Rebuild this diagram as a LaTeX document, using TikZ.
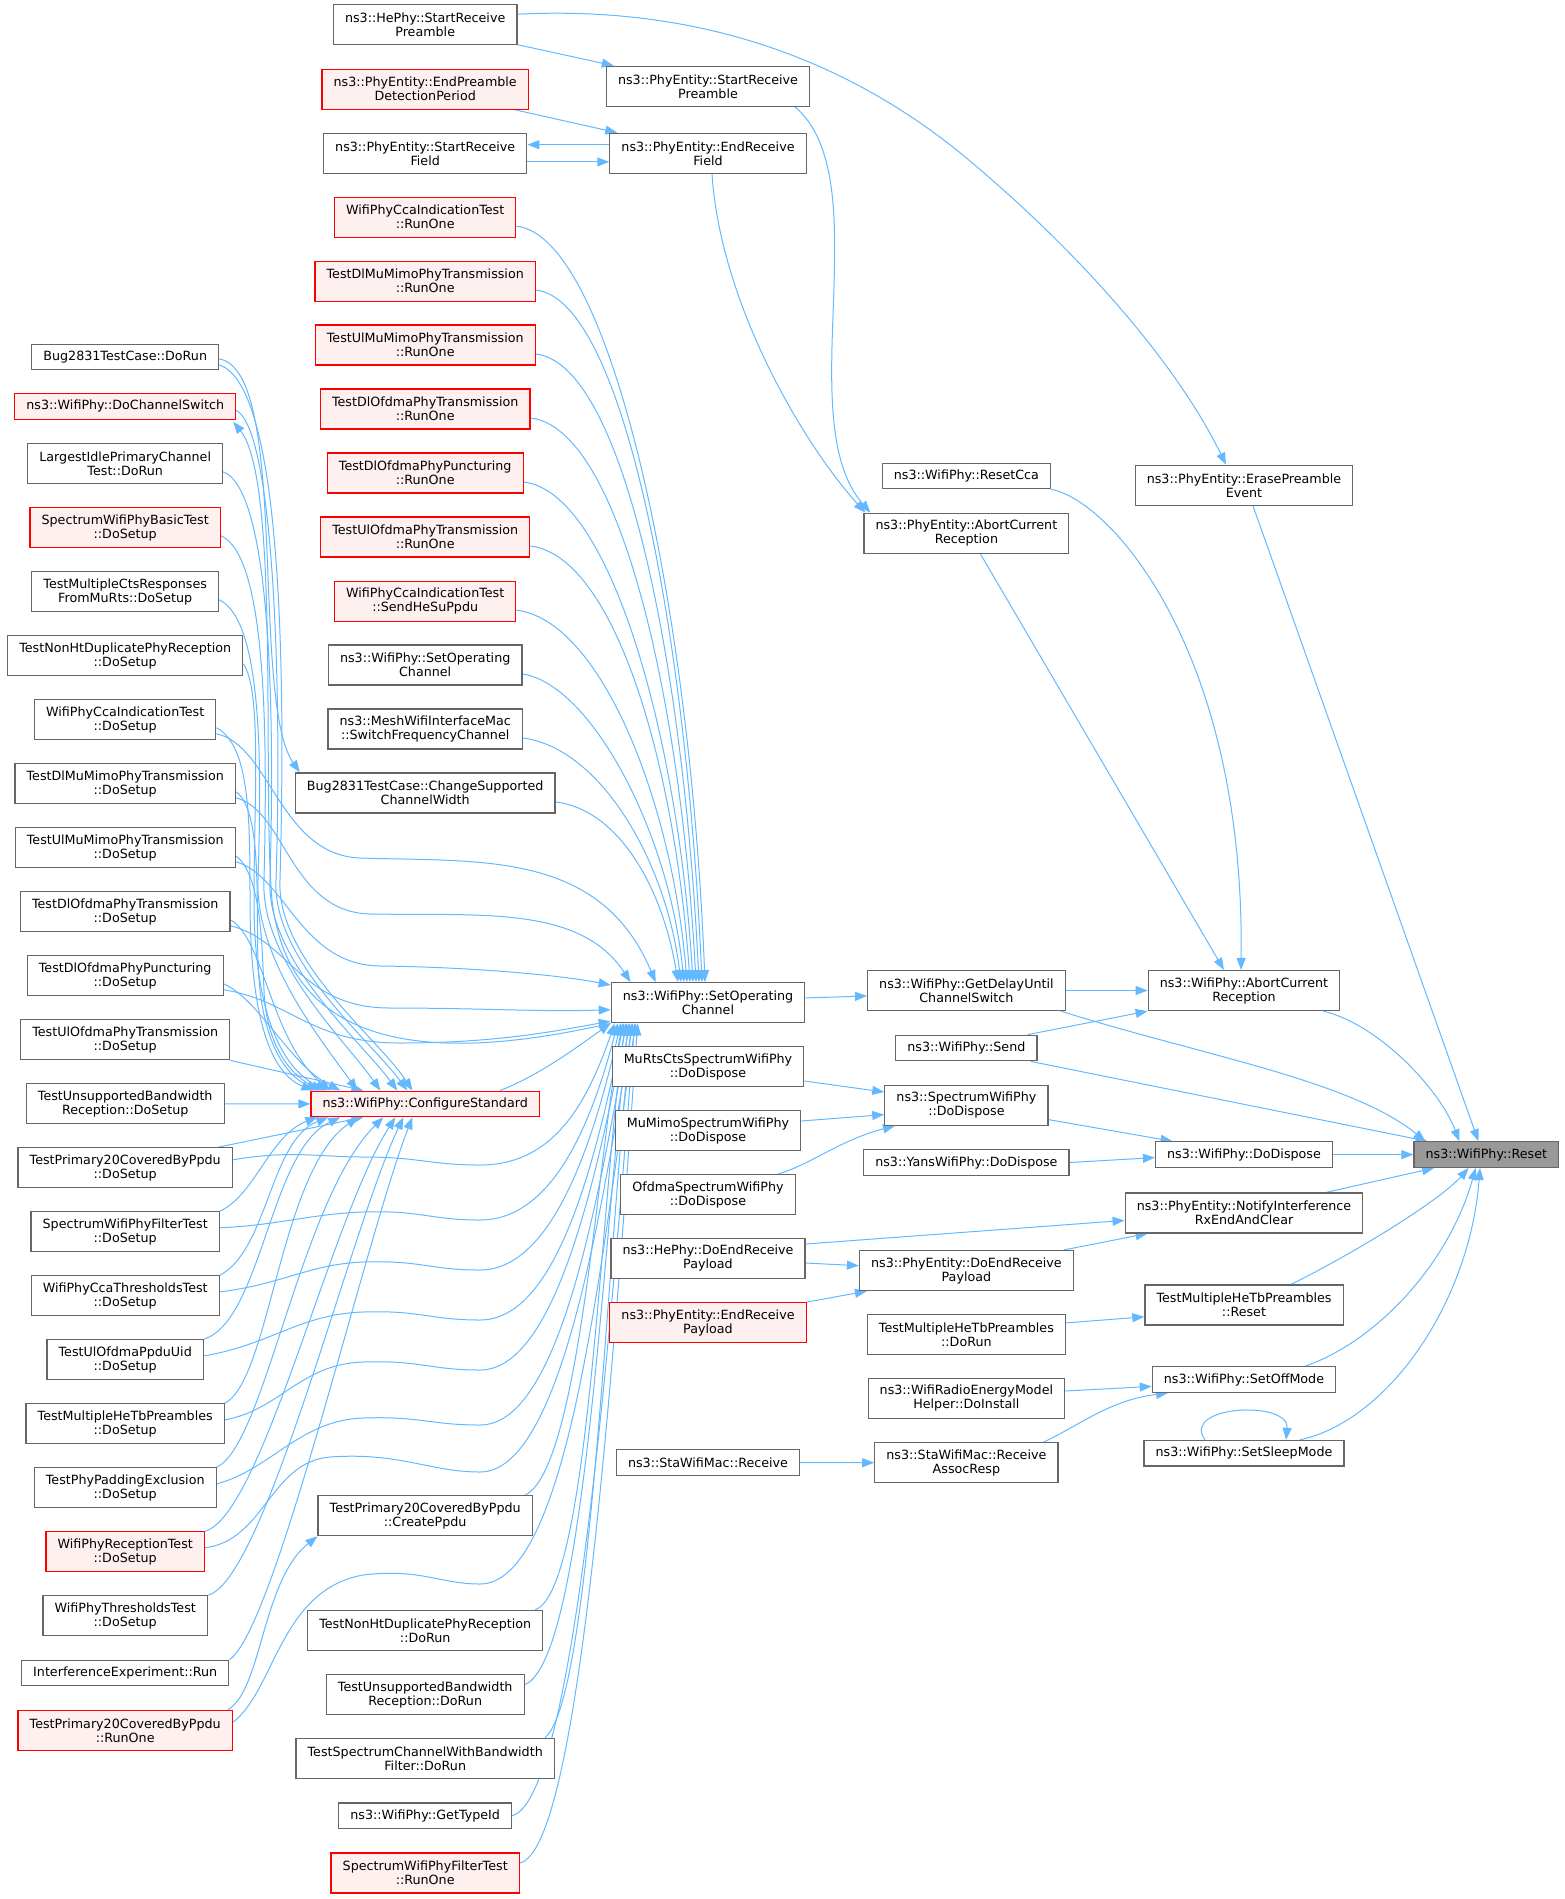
\documentclass[tikz,border=0pt]{standalone}
\usepackage{fontspec}
\setmainfont{DejaVu Sans}
\usepackage{xcolor}
\usepackage{tikz}
\usetikzlibrary{arrows.meta}

\definecolor{edgeblue}{HTML}{63B8FF}
\definecolor{boxgrey}{HTML}{666666}
\definecolor{redfill}{HTML}{FFF0F0}
\definecolor{resetfill}{HTML}{999999}

\pgfdeclarelayer{bg}
\pgfsetlayers{bg,main}

\tikzset{
  fn/.style={draw=boxgrey,line width=1.2pt,fill=white,inner xsep=11.6pt,inner ysep=2pt,
    minimum height=25.5pt,align=center,font=\fontsize{12.7}{14}\selectfont},
  two/.style={minimum height=40pt},
  hot/.style={draw=red,fill=redfill},
  call/.style={draw=edgeblue,line width=1pt,-{Triangle[length=12pt,width=9pt]}},
}

\begin{document}
\begin{tikzpicture}[x=1pt,y=-1pt]
  \useasboundingbox (0,0) rectangle (1565,1899);
  \begin{scope}[every node/.style={fn}]
    % left column
    \node (dorun) at (125.2,357) {Bug2831TestCase::DoRun};
    \node[hot] (chsw) at (125.2,406.4) {ns3::WifiPhy::DoChannelSwitch};
    \node[two] (largest) at (125.2,463.8) {LargestIdlePrimaryChannel\\Test::DoRun};
    \node[two,hot] (basic) at (125.2,527.8) {SpectrumWifiPhyBasicTest\\::DoSetup};
    \node[two] (ctsmurts) at (125.2,591.8) {TestMultipleCtsResponses\\FromMuRts::DoSetup};
    \node[two] (nonhtsetup) at (125.2,655.8) {TestNonHtDuplicatePhyReception\\::DoSetup};
    \node[two] (ccasetup) at (125.2,719.8) {WifiPhyCcaIndicationTest\\::DoSetup};
    \node[two] (dlmimosetup) at (125.2,783.8) {TestDlMuMimoPhyTransmission\\::DoSetup};
    \node[two] (ulmimosetup) at (125.2,847.8) {TestUlMuMimoPhyTransmission\\::DoSetup};
    \node[two] (dlofdmasetup) at (125.2,911.8) {TestDlOfdmaPhyTransmission\\::DoSetup};
    \node[two] (punctsetup) at (125.2,975.8) {TestDlOfdmaPhyPuncturing\\::DoSetup};
    \node[two] (ulofdmasetup) at (125.2,1039.8) {TestUlOfdmaPhyTransmission\\::DoSetup};
    \node[two] (unsupsetup) at (125.2,1103.8) {TestUnsupportedBandwidth\\Reception::DoSetup};
    \node[two] (p20setup) at (125.2,1167.8) {TestPrimary20CoveredByPpdu\\::DoSetup};
    \node[two] (filtersetup) at (125.2,1231.8) {SpectrumWifiPhyFilterTest\\::DoSetup};
    \node[two] (ccathrsetup) at (125.2,1295.8) {WifiPhyCcaThresholdsTest\\::DoSetup};
    \node[two] (ppdusetup) at (125.2,1359.8) {TestUlOfdmaPpduUid\\::DoSetup};
    \node[two] (hetbsetup) at (125.2,1423.8) {TestMultipleHeTbPreambles\\::DoSetup};
    \node[two] (paddingsetup) at (125.2,1487.8) {TestPhyPaddingExclusion\\::DoSetup};
    \node[two,hot] (rxtestsetup) at (125.2,1551.8) {WifiPhyReceptionTest\\::DoSetup};
    \node[two] (thrsetup) at (125.2,1615.8) {WifiPhyThresholdsTest\\::DoSetup};
    \node (interf) at (125.2,1673) {InterferenceExperiment::Run};
    \node[two,hot] (p20runone) at (125.2,1730.3) {TestPrimary20CoveredByPpdu\\::RunOne};
    % second column
    \node[two] (hestart) at (425.2,24.7) {ns3::HePhy::StartReceive\\Preamble};
    \node[two,hot] (endpreamble) at (425.2,89.2) {ns3::PhyEntity::EndPreamble\\DetectionPeriod};
    \node[two] (startfield) at (425.2,153.3) {ns3::PhyEntity::StartReceive\\Field};
    \node[two,hot] (ccarunone) at (425.2,217.2) {WifiPhyCcaIndicationTest\\::RunOne};
    \node[two,hot] (dlmimorunone) at (425.2,281.1) {TestDlMuMimoPhyTransmission\\::RunOne};
    \node[two,hot] (ulmimorunone) at (425.2,345) {TestUlMuMimoPhyTransmission\\::RunOne};
    \node[two,hot] (dlofdmarunone) at (425.2,409) {TestDlOfdmaPhyTransmission\\::RunOne};
    \node[two,hot] (punctrunone) at (425.2,473) {TestDlOfdmaPhyPuncturing\\::RunOne};
    \node[two,hot] (ulofdmarunone) at (425.2,537) {TestUlOfdmaPhyTransmission\\::RunOne};
    \node[two,hot] (sendhesu) at (425.2,601.2) {WifiPhyCcaIndicationTest\\::SendHeSuPpdu};
    \node[two] (setopwrap) at (425.2,665) {ns3::WifiPhy::SetOperating\\Channel};
    \node[two] (mesh) at (425.2,729) {ns3::MeshWifiInterfaceMac\\::SwitchFrequencyChannel};
    \node[two] (changewidth) at (425.2,792.9) {Bug2831TestCase::ChangeSupported\\ChannelWidth};
    \node[hot] (confstd) at (425.2,1103.9) {ns3::WifiPhy::ConfigureStandard};
    \node[two] (createppdu) at (425.2,1515.7) {TestPrimary20CoveredByPpdu\\::CreatePpdu};
    \node[two] (nonhtrun) at (425.2,1630.3) {TestNonHtDuplicatePhyReception\\::DoRun};
    \node[two] (unsuprun) at (425.2,1694.7) {TestUnsupportedBandwidth\\Reception::DoRun};
    \node[two] (specchan) at (425.2,1758.3) {TestSpectrumChannelWithBandwidth\\Filter::DoRun};
    \node (typeid) at (425.2,1815.7) {ns3::WifiPhy::GetTypeId};
    \node[two,hot] (filterrunone) at (425.2,1873) {SpectrumWifiPhyFilterTest\\::RunOne};
    % third column
    \node[two] (phystartpre) at (708,86.3) {ns3::PhyEntity::StartReceive\\Preamble};
    \node[two] (endfield) at (708,153.3) {ns3::PhyEntity::EndReceive\\Field};
    \node[two] (setop) at (708,1002.7) {ns3::WifiPhy::SetOperating\\Channel};
    \node[two] (murts) at (708,1066.6) {MuRtsCtsSpectrumWifiPhy\\::DoDispose};
    \node[two] (mumimo) at (708,1130.5) {MuMimoSpectrumWifiPhy\\::DoDispose};
    \node[two] (ofdma) at (708,1194.5) {OfdmaSpectrumWifiPhy\\::DoDispose};
    \node[two] (hedoend) at (708,1258.4) {ns3::HePhy::DoEndReceive\\Payload};
    \node[two,hot] (endpayload) at (708,1322.7) {ns3::PhyEntity::EndReceive\\Payload};
    \node (stareceive) at (708,1462.5) {ns3::StaWifiMac::Receive};
    % fourth column
    \node (resetcca) at (966.4,476) {ns3::WifiPhy::ResetCca};
    \node[two] (phyabort) at (966.4,533.3) {ns3::PhyEntity::AbortCurrent\\Reception};
    \node[two] (delay) at (966.4,990.5) {ns3::WifiPhy::GetDelayUntil\\ChannelSwitch};
    \node (send) at (966.4,1048) {ns3::WifiPhy::Send};
    \node[two] (specdispose) at (966.4,1105.2) {ns3::SpectrumWifiPhy\\::DoDispose};
    \node (yansdispose) at (966.4,1162.5) {ns3::YansWifiPhy::DoDispose};
    \node[two] (doendpayload) at (966.4,1270.5) {ns3::PhyEntity::DoEndReceive\\Payload};
    \node[two] (hetbrun) at (966.4,1334.5) {TestMultipleHeTbPreambles\\::DoRun};
    \node[two] (energy) at (966.4,1398.4) {ns3::WifiRadioEnergyModel\\Helper::DoInstall};
    \node[two] (assocresp) at (966.4,1462.7) {ns3::StaWifiMac::Receive\\AssocResp};
    % fifth column
    \node[two] (erase) at (1244,485.3) {ns3::PhyEntity::ErasePreamble\\Event};
    \node[two] (wifiabort) at (1244,990.5) {ns3::WifiPhy::AbortCurrent\\Reception};
    \node (wifidispose) at (1244,1154.6) {ns3::WifiPhy::DoDispose};
    \node[two] (notify) at (1244,1212.9) {ns3::PhyEntity::NotifyInterference\\RxEndAndClear};
    \node[two] (hetbreset) at (1244,1305) {TestMultipleHeTbPreambles\\::Reset};
    \node (offmode) at (1244,1379.6) {ns3::WifiPhy::SetOffMode};
    \node (sleepmode) at (1244,1453.2) {ns3::WifiPhy::SetSleepMode};
    \node[fill=resetfill] (reset) at (1486.4,1154.6) {ns3::WifiPhy::Reset};
  \end{scope}

  \begin{pgfonlayer}{bg}
    % preamble and field handling
    \draw[call] ([shift={(0,20)}]hestart.east) -- ([shift={(8,0)}]phystartpre.north west);
    \draw[call] ([shift={(0,-10.5)}]hestart.east) .. controls (700,5) and (850,60) .. (970,161) .. controls (1090,262) and (1180,370) .. ([shift={(-18,0)}]erase.north);
    \draw[call] ([shift={(-14,0)}]endpreamble.south east) -- ([shift={(8,0)}]endfield.north west);
    \draw[call] ([shift={(0,-8.6)}]endfield.west) -- ([shift={(0,-8.6)}]startfield.east);
    \draw[call] ([shift={(0,8.6)}]startfield.east) -- ([shift={(0,8.6)}]endfield.west);
    \draw[call] ([shift={(-15,0)}]phystartpre.south east) .. controls (880,180) and (790,420) .. ([shift={(7,0)}]phyabort.north west);
    \draw[call] ([shift={(4,0)}]endfield.south) .. controls (720,300) and (800,440) .. ([shift={(2,0)}]phyabort.north west);
    \draw[call] (resetcca.south east) .. controls (1110,500) and (1245,650) .. ([shift={(-3,0)}]wifiabort.north);
    \draw[call] ([shift={(14,0)}]phyabort.south) -- ([shift={(-20,0)}]wifiabort.north);
    \draw[call] ([shift={(9,0)}]erase.south) -- ([shift={(-8,0)}]reset.north);

    % into Reset
    \draw[call] (delay.east) -- (wifiabort.west);
    \draw[call] ([shift={(-5,0)}]delay.south east) .. controls (1200,1055) and (1350,1080) .. ([shift={(12,0)}]reset.north west);
    \draw[call] ([shift={(-10,0)}]send.north east) -- (wifiabort.south west);
    \draw[call] ([shift={(-7,0)}]send.south east) -- ([shift={(14,0)}]reset.north west);
    \draw[call] ([shift={(-17,0)}]wifiabort.south east) .. controls (1380,1025) and (1440,1090) .. ([shift={(-27,0)}]reset.north);
    \draw[call] ([shift={(0,14.4)}]specdispose.east) -- ([shift={(17.6,0)}]wifidispose.north west);
    \draw[call] (yansdispose.east) -- ([shift={(0,3)}]wifidispose.west);
    \draw[call] (wifidispose.east) -- (reset.west);
    \draw[call] ([shift={(-37,0)}]notify.north east) -- ([shift={(20.7,0)}]reset.south west);
    \draw[call] ([shift={(47,0)}]hetbreset.north) .. controls (1360,1250) and (1440,1200) .. ([shift={(-17.7,0)}]reset.south);
    \draw[call] ([shift={(61,0)}]offmode.north) .. controls (1380,1340) and (1450,1260) .. ([shift={(-10.7,0)}]reset.south);
    \draw[call] ([shift={(56,0)}]sleepmode.north) .. controls (1390,1420) and (1470,1300) .. ([shift={(-6.4,0)}]reset.south);
    \draw[call] ([shift={(-39,0)}]sleepmode.north) .. controls (1180,1405) and (1290,1400) .. ([shift={(42,0)}]sleepmode.north);

    % middle part
    \draw[call] ([shift={(0,-4.8)}]setop.east) -- ([shift={(0,5.5)}]delay.west);
    \draw[call] ([shift={(0,14.4)}]murts.east) -- ([shift={(0,-13.2)}]specdispose.west);
    \draw[call] ([shift={(0,-9.5)}]mumimo.east) -- ([shift={(0,9.4)}]specdispose.west);
    \draw[call] ([shift={(70,0)}]ofdma.north) .. controls (810,1165) and (840,1140) .. ([shift={(10.7,0)}]specdispose.south west);
    \draw[call] ([shift={(0,-14.4)}]hedoend.east) -- ([shift={(0,7.5)}]notify.west);
    \draw[call] ([shift={(0,4.6)}]hedoend.east) -- ([shift={(0,-4.8)}]doendpayload.west);
    \draw[call] (endpayload.north east) -- ([shift={(8,0)}]doendpayload.south west);
    \draw[call] ([shift={(-10,0)}]doendpayload.north east) -- ([shift={(23,0)}]notify.south west);
    \draw[call] ([shift={(0,-11.6)}]hetbrun.east) -- ([shift={(0,11.8)}]hetbreset.west);
    \draw[call] ([shift={(0,-7.4)}]energy.east) -- ([shift={(0,6.8)}]offmode.west);
    \draw[call] ([shift={(-15,0)}]assocresp.north east) .. controls (1080,1425) and (1110,1400) .. ([shift={(16.4,0)}]offmode.south west);
    \draw[call] (stareceive.east) -- (assocresp.west);

    % second column into SetOperatingChannel
    \draw[call] ([shift={(0,9)}]ccarunone.east) .. controls (610,236) and (690,600) .. ([shift={(-3,0)}]setop.north);
    \draw[call] ([shift={(0,9)}]dlmimorunone.east) .. controls (625,300) and (687,640) .. ([shift={(-6,0)}]setop.north);
    \draw[call] ([shift={(0,9)}]ulmimorunone.east) .. controls (625,364) and (684,670) .. ([shift={(-9,0)}]setop.north);
    \draw[call] ([shift={(0,9)}]dlofdmarunone.east) .. controls (620,428) and (681,700) .. ([shift={(-12,0)}]setop.north);
    \draw[call] ([shift={(0,9)}]punctrunone.east) .. controls (610,492) and (678,735) .. ([shift={(-15,0)}]setop.north);
    \draw[call] ([shift={(0,9)}]ulofdmarunone.east) .. controls (615,556) and (675,765) .. ([shift={(-18,0)}]setop.north);
    \draw[call] ([shift={(0,9)}]sendhesu.east) .. controls (600,620) and (672,800) .. ([shift={(-21,0)}]setop.north);
    \draw[call] ([shift={(0,9)}]setopwrap.east) .. controls (590,684) and (669,830) .. ([shift={(-24,0)}]setop.north);
    \draw[call] ([shift={(0,9)}]mesh.east) .. controls (600,748) and (666,860) .. ([shift={(-27,0)}]setop.north);
    \draw[call] ([shift={(0,9)}]changewidth.east) .. controls (620,810) and (663,890) .. ([shift={(-30,0)}]setop.north);
    \draw[call] ([shift={(-40,0)}]confstd.north east) .. controls (540,1075) and (580,1045) .. (setop.south west);
    \draw[call] ([shift={(-8,0)}]createppdu.north east) .. controls (580,1470) and (598,1150) .. ([shift={(12,0)}]setop.south west);
    \draw[call] ([shift={(-8,0)}]nonhtrun.north east) .. controls (590,1590) and (600,1200) .. ([shift={(15,0)}]setop.south west);
    \draw[call] ([shift={(0,-10)}]unsuprun.east) .. controls (585,1660) and (602,1250) .. ([shift={(18,0)}]setop.south west);
    \draw[call] ([shift={(-10,0)}]specchan.north east) .. controls (590,1700) and (604,1300) .. ([shift={(21,0)}]setop.south west);
    \draw[call] (typeid.east) .. controls (570,1800) and (606,1400) .. ([shift={(24,0)}]setop.south west);
    \draw[call] ([shift={(0,-10)}]filterrunone.east) .. controls (575,1850) and (608,1450) .. ([shift={(27,0)}]setop.south west);

    % left column into ConfigureStandard
    \draw[call] ([shift={(0,8)}]dorun.east) .. controls (285,385) and (285,700) .. (280,880) .. controls (276,960) and (380,1040) .. ([shift={(102,0)}]confstd.north west);
    \draw[call] ([shift={(0,4)}]chsw.east) .. controls (275,430) and (282,700) .. (276,880) .. controls (272,960) and (370,1040) .. ([shift={(97,0)}]confstd.north west);
    \draw[call] ([shift={(0,8)}]largest.east) .. controls (270,490) and (275,700) .. (270,880) .. controls (266,960) and (360,1040) .. ([shift={(87,0)}]confstd.north west);
    \draw[call] ([shift={(0,8)}]basic.east) .. controls (265,555) and (268,720) .. (264,880) .. controls (260,960) and (345,1040) .. ([shift={(70,0)}]confstd.north west);
    \draw[call] ([shift={(0,8)}]ctsmurts.east) .. controls (262,620) and (262,760) .. (258,880) .. controls (255,960) and (325,1045) .. ([shift={(47,0)}]confstd.north west);
    \draw[call] ([shift={(0,8)}]nonhtsetup.east) .. controls (262,690) and (254,800) .. (254,900) .. controls (254,1020) and (285,1070) .. ([shift={(17,0)}]confstd.north west);
    \draw[call] ([shift={(0,8)}]ccasetup.east) .. controls (250,745) and (250,820) .. (250,900) .. controls (250,1030) and (275,1075) .. ([shift={(3,0)}]confstd.north west);
    \draw[call] ([shift={(0,8)}]dlmimosetup.east) .. controls (262,810) and (256,900) .. (258,960) .. controls (260,1040) and (285,1075) .. ([shift={(8,0)}]confstd.north west);
    \draw[call] ([shift={(0,8)}]ulmimosetup.east) .. controls (262,875) and (262,950) .. (264,990) .. controls (266,1050) and (295,1078) .. ([shift={(13,0)}]confstd.north west);
    \draw[call] ([shift={(0,8)}]dlofdmasetup.east) .. controls (265,940) and (270,1040) .. ([shift={(20,0)}]confstd.north west);
    \draw[call] ([shift={(0,8)}]punctsetup.east) .. controls (260,1000) and (290,1065) .. ([shift={(30,0)}]confstd.north west);
    \draw[call] (ulofdmasetup.south east) -- ([shift={(53,0)}]confstd.north west);
    \draw[call] (unsupsetup.east) -- (confstd.west);
    \draw[call] ([shift={(-15,0)}]p20setup.north east) -- ([shift={(53,0)}]confstd.south west);
    \draw[call] (filtersetup.north east) .. controls (255,1195) and (270,1135) .. ([shift={(7,0)}]confstd.south west);
    \draw[call] (ccathrsetup.north east) .. controls (268,1250) and (270,1140) .. ([shift={(18,0)}]confstd.south west);
    \draw[call] (ppdusetup.north east) .. controls (262,1320) and (270,1150) .. ([shift={(30,0)}]confstd.south west);
    \draw[call] (hetbsetup.north east) .. controls (270,1380) and (280,1170) .. ([shift={(48,0)}]confstd.south west);
    \draw[call] (paddingsetup.north east) .. controls (265,1445) and (300,1200) .. ([shift={(73,0)}]confstd.south west);
    \draw[call] (rxtestsetup.north east) .. controls (262,1515) and (330,1220) .. ([shift={(85,0)}]confstd.south west);
    \draw[call] (thrsetup.north east) .. controls (265,1580) and (350,1230) .. ([shift={(93,0)}]confstd.south west);
    \draw[call] (interf.north east) .. controls (275,1630) and (365,1240) .. ([shift={(102,0)}]confstd.south west);

    % left column into SetOperatingChannel
    \draw[call] ([shift={(0,14)}]ccasetup.east) .. controls (270,745) and (280,855) .. (360,858) .. controls (480,862) and (600,850) .. ([shift={(45,0)}]setop.north west);
    \draw[call] ([shift={(0,14)}]dlmimosetup.east) .. controls (285,810) and (290,912) .. (370,914) .. controls (480,916) and (580,905) .. ([shift={(20,0)}]setop.north west);
    \draw[call] ([shift={(0,14)}]ulmimosetup.east) .. controls (285,875) and (300,965) .. (380,966) .. controls (470,967) and (560,975) .. ([shift={(0,3)}]setop.north west);
    \draw[call] ([shift={(0,14)}]dlofdmasetup.east) .. controls (290,940) and (300,1008) .. (390,1008) .. controls (480,1008) and (540,1012) .. ([shift={(0,7)}]setop.west);
    \draw[call] ([shift={(0,14)}]punctsetup.east) .. controls (290,1000) and (310,1043) .. (400,1043) .. controls (500,1043) and (560,1030) .. ([shift={(0,-2)}]setop.south west);
    \draw[call] ([shift={(0,-8)}]p20setup.east) .. controls (290,1150) and (320,1157) .. (363,1157) .. controls (420,1157) and (430,1165) .. (480,1165) .. controls (550,1165) and (585,1110) .. ([shift={(4,0)}]setop.south west);
    \draw[call] ([shift={(0,-4)}]filtersetup.east) .. controls (280,1225) and (310,1214) .. (363,1212) .. controls (420,1210) and (430,1220) .. (480,1220) .. controls (550,1220) and (590,1130) .. ([shift={(7,0)}]setop.south west);
    \draw[call] ([shift={(0,-4)}]ccathrsetup.east) .. controls (280,1285) and (310,1264) .. (363,1262) .. controls (420,1260) and (430,1270) .. (480,1270) .. controls (550,1270) and (592,1150) .. ([shift={(10,0)}]setop.south west);
    \draw[call] ([shift={(0,-4)}]ppdusetup.east) .. controls (270,1345) and (300,1314) .. (363,1312) .. controls (420,1310) and (430,1320) .. (480,1320) .. controls (555,1320) and (594,1170) .. ([shift={(13,0)}]setop.south west);
    \draw[call] ([shift={(0,-4)}]hetbsetup.east) .. controls (280,1410) and (300,1364) .. (363,1362) .. controls (420,1360) and (430,1370) .. (480,1370) .. controls (555,1370) and (596,1180) .. ([shift={(16,0)}]setop.south west);
    \draw[call] ([shift={(0,-4)}]paddingsetup.east) .. controls (270,1470) and (300,1420) .. (363,1418) .. controls (420,1416) and (430,1425) .. (480,1425) .. controls (560,1425) and (598,1200) .. ([shift={(19,0)}]setop.south west);
    \draw[call] ([shift={(0,-4)}]rxtestsetup.east) .. controls (265,1540) and (270,1462) .. (330,1457) .. controls (400,1452) and (430,1472) .. (480,1472) .. controls (560,1472) and (600,1220) .. ([shift={(22,0)}]setop.south west);
    \draw[call] ([shift={(0,-8)}]p20runone.east) .. controls (275,1690) and (280,1590) .. (363,1575) .. controls (420,1568) and (440,1584) .. (480,1584) .. controls (570,1584) and (602,1250) .. ([shift={(25,0)}]setop.south west);

    % the remaining calls
    \draw[call] (setop.south west) .. controls (450,1060) and (290,1060) .. (272,900) .. controls (262,780) and (280,480) .. ([shift={(-3,2)}]chsw.south east);
    \draw[call] ([shift={(0,2)}]dorun.east) .. controls (290,370) and (250,700) .. ([shift={(5,0)}]changewidth.north west);
    \draw[call] ([shift={(-5,0)}]p20runone.north east) .. controls (262,1690) and (262,1580) .. (createppdu.south west);
  \end{pgfonlayer}
\end{tikzpicture}
\end{document}
